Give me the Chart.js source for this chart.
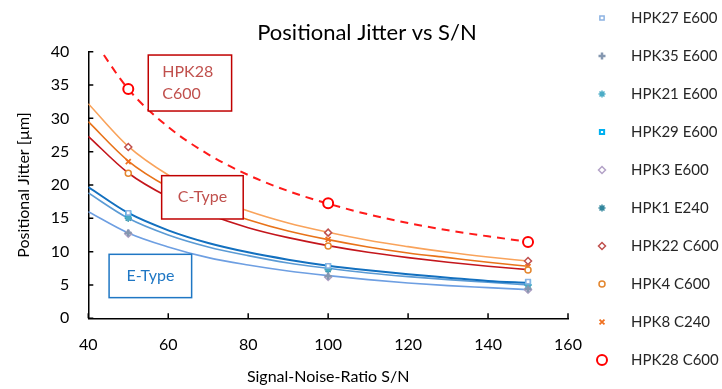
<!DOCTYPE html>
<html>
<head>
<meta charset="utf-8">
<script src="https://cdn.jsdelivr.net/npm/chart.js@4.4.1/dist/chart.umd.min.js"></script>
<style>
  html, body { margin: 0; padding: 0; background: #fff; }
  #wrap { width: 722px; height: 389px; }
</style>
</head>
<body>
<div id="wrap"><canvas id="jitterChart" width="722" height="389"></canvas></div>
<script>
const FONT = 'Lato, "Open Sans", sans-serif';

// measured S/N values
const snPoints = [50, 100, 150];

// positional jitter per sensor [um]
const hpk27 = [15.8, 7.85, 5.5];
const hpk35 = [12.8, 6.3, 4.4];
const hpk21 = [15.1, 7.4, 5.0];
const hpk29 = [15.7, 7.8, 5.4];
const hpk3 = [12.7, 6.2, 4.3];
const hpk1 = [15.0, 7.3, 5.0];
const hpk22 = [25.7, 12.85, 8.6];
const hpk4 = [21.75, 10.85, 7.25];
const hpk8 = [23.5, 11.85, 7.75];
const hpk28 = [34.4, 17.25, 11.45];

// fit curves
const snFit = [40, 50, 60, 70, 80, 90, 100, 110, 120, 130, 140, 150];
const fitCUpper = [32.2, 25.8, 21.5, 18.4, 16.1, 14.3, 12.9, 11.7, 10.75, 9.9, 9.2, 8.6];
const fitCMid = [29.5, 23.6, 19.7, 16.9, 14.8, 13.1, 11.8, 10.7, 9.8, 9.1, 8.4, 7.8];
const fitCLower = [27.3, 21.8, 18.2, 15.6, 13.6, 12.1, 10.9, 9.9, 9.1, 8.4, 7.8, 7.3];
const fitEUpper = [19.7, 15.8, 13.2, 11.3, 9.9, 8.8, 7.9, 7.2, 6.6, 6.1, 5.6, 5.3];
const fitEMid = [18.8, 15.0, 12.5, 10.7, 9.4, 8.3, 7.5, 6.8, 6.25, 5.8, 5.4, 5.0];
const fitELower = [16.0, 12.8, 10.7, 9.1, 8.0, 7.1, 6.4, 5.8, 5.3, 4.9, 4.6, 4.3];
const fitHpk28 = [43.0, 34.4, 28.7, 24.6, 21.5, 19.1, 17.2, 15.6, 14.3, 13.2, 12.3, 11.5];

const xTicks = [40, 60, 80, 100, 120, 140, 160];
const yTicks = [0, 5, 10, 15, 20, 25, 30, 35, 40];

const chartTitle = 'Positional Jitter vs S/N';

function toXY(xs, ys) {
    return xs.map((x, i) => ({ x, y: ys[i] }));
}

function pointSet(label, values, style, color, radius, bw) {
    return {
        type: 'scatter',
        label,
        data: toXY(snPoints, values),
        pointStyle: style,
        borderColor: color,
        backgroundColor: '#fff',
        pointRadius: radius,
        pointBorderWidth: bw,
        showLine: false
    };
}

function fitSet(values, color, width, dash) {
    return {
        type: 'line',
        label: '',
        data: toXY(snFit, values),
        borderColor: color,
        borderWidth: width,
        borderDash: dash || [],
        pointRadius: 0,
        cubicInterpolationMode: 'monotone',
        fill: false
    };
}

const markerSets = [
    pointSet('HPK27 E600', hpk27, 'rect', '#8DB3E2', 3, 1.5),
    pointSet('HPK35 E600', hpk35, 'cross', '#8497B0', 3.5, 2.5),
    pointSet('HPK21 E600', hpk21, 'star', '#4BACC6', 3.5, 1.5),
    pointSet('HPK29 E600', hpk29, 'rect', '#00B0F0', 3, 2),
    pointSet('HPK3 E600', hpk3, 'rectRot', '#B3A2C7', 3.5, 1.5),
    pointSet('HPK1 E240', hpk1, 'star', '#31859C', 3.5, 1.5),
    pointSet('HPK22 C600', hpk22, 'rectRot', '#C0504D', 3.5, 1.5),
    pointSet('HPK4 C600', hpk4, 'circle', '#E3862E', 3, 1.5),
    pointSet('HPK8 C240', hpk8, 'crossRot', '#F07020', 3.5, 1.8),
    pointSet('HPK28 C600', hpk28, 'circle', '#FF0000', 5, 2)
];

const fitSets = [
    fitSet(fitCUpper, '#F9A35B', 1.6),
    fitSet(fitCMid, '#E8731A', 1.6),
    fitSet(fitCLower, '#C4161C', 1.6),
    fitSet(fitEUpper, '#1370BF', 2),
    fitSet(fitEMid, '#5B9BD5', 1.6),
    fitSet(fitELower, '#6E9FE2', 1.6),
    fitSet(fitHpk28, '#FF1A1A', 2, [8, 6])
];

// text boxes, positioned in data units
const noteBoxes = [
    { lines: ['HPK28', 'C600'], x0: 55, x1: 75.85, y0: 39.5, y1: 31.1, border: '#C00000', text: '#C0504D', align: 'left' },
    { lines: ['C-Type'], x0: 58.35, x1: 78.75, y0: 21.4, y1: 14.9, border: '#C00000', text: '#C0504D', align: 'center' },
    { lines: ['E-Type'], x0: 45.2, x1: 65.85, y0: 9.6, y1: 3.1, border: '#1F77C4', text: '#1F77C4', align: 'center' }
];

const decorPlugin = {
    id: 'decor',
    afterDatasetsDraw(chart) {
        const { ctx, scales: { x, y } } = chart;
        ctx.save();
        noteBoxes.forEach(b => {
            const l = x.getPixelForValue(b.x0), r = x.getPixelForValue(b.x1);
            const t = y.getPixelForValue(b.y0), btm = y.getPixelForValue(b.y1);
            ctx.fillStyle = '#fff';
            ctx.fillRect(l, t, r - l, btm - t);
            ctx.strokeStyle = b.border;
            ctx.lineWidth = 1.5;
            ctx.strokeRect(l, t, r - l, btm - t);
            ctx.fillStyle = b.text;
            ctx.font = '16px ' + FONT;
            ctx.textBaseline = 'middle';
            ctx.textAlign = b.align;
            const lh = 22;
            const cy = (t + btm) / 2 - (b.lines.length - 1) * lh / 2;
            b.lines.forEach((s, i) => {
                const tx = b.align === 'center' ? (l + r) / 2 : l + 14;
                ctx.fillText(s, tx, cy + i * lh);
            });
        });
        ctx.restore();
    },
    afterDraw(chart) {
        const { ctx, chartArea, scales: { x, y } } = chart;
        ctx.save();

        // title, centred on the whole picture
        ctx.fillStyle = '#000';
        ctx.font = '22px ' + FONT;
        ctx.textAlign = 'center';
        ctx.textBaseline = 'alphabetic';
        ctx.fillText(chartTitle, 367, 40);

        // inward tick marks
        ctx.strokeStyle = '#000';
        ctx.lineWidth = 1.5;
        ctx.beginPath();
        x.ticks.forEach(t => {
            const px = x.getPixelForValue(t.value);
            ctx.moveTo(px, chartArea.bottom);
            ctx.lineTo(px, chartArea.bottom - 5);
        });
        y.ticks.forEach(t => {
            const py = y.getPixelForValue(t.value);
            ctx.moveTo(chartArea.left, py);
            ctx.lineTo(chartArea.left + 5, py);
        });
        ctx.stroke();

        // legend
        ctx.font = '15px ' + FONT;
        ctx.textBaseline = 'middle';
        ctx.textAlign = 'left';
        markerSets.forEach((ds, i) => {
            const cy = 18 + i * 38;
            ctx.strokeStyle = ds.borderColor;
            ctx.fillStyle = ds.backgroundColor;
            ctx.lineWidth = ds.pointBorderWidth;
            Chart.helpers.drawPoint(ctx, {
                pointStyle: ds.pointStyle,
                radius: ds.pointRadius,
                rotation: 0,
                borderWidth: ds.pointBorderWidth
            }, 602, cy);
            ctx.fillStyle = '#262626';
            ctx.fillText(ds.label, 631, cy);
        });
        ctx.restore();
    }
};

const ctx = document.getElementById('jitterChart').getContext('2d');

new Chart(ctx, {
    data: {
        datasets: [...markerSets, ...fitSets]
    },
    options: {
        responsive: false,
        animation: false,
        layout: { padding: { left: 0, right: 154, top: 51.7, bottom: 0 } },
        plugins: {
            legend: { display: false },
            tooltip: { enabled: false },
            title: { display: false }
        },
        scales: {
            x: {
                type: 'linear',
                min: 40,
                max: 160,
                afterBuildTicks: axis => { axis.ticks = xTicks.map(v => ({ value: v })); },
                afterFit: axis => { axis.height = 70.7; },
                grid: { drawOnChartArea: false, drawTicks: false },
                border: { color: '#000', width: 1.5 },
                ticks: { color: '#000', font: { family: FONT, size: 16 }, padding: 17 },
                title: {
                    display: true,
                    text: 'Signal-Noise-Ratio S/N',
                    color: '#000',
                    font: { family: FONT, size: 16 },
                    padding: { top: 0, bottom: 3 }
                }
            },
            y: {
                type: 'linear',
                min: 0,
                max: 40,
                afterBuildTicks: axis => { axis.ticks = yTicks.map(v => ({ value: v })); },
                afterFit: axis => { axis.width = 88.3; },
                grid: { drawOnChartArea: false, drawTicks: false },
                border: { color: '#000', width: 1.5 },
                ticks: { color: '#000', font: { family: FONT, size: 16 }, padding: 19 },
                title: {
                    display: true,
                    text: 'Positional Jitter [µm]',
                    color: '#000',
                    font: { family: FONT, size: 16 },
                    padding: { top: 14, bottom: 0 }
                }
            }
        }
    },
    plugins: [decorPlugin]
});
</script>
</body>
</html>
